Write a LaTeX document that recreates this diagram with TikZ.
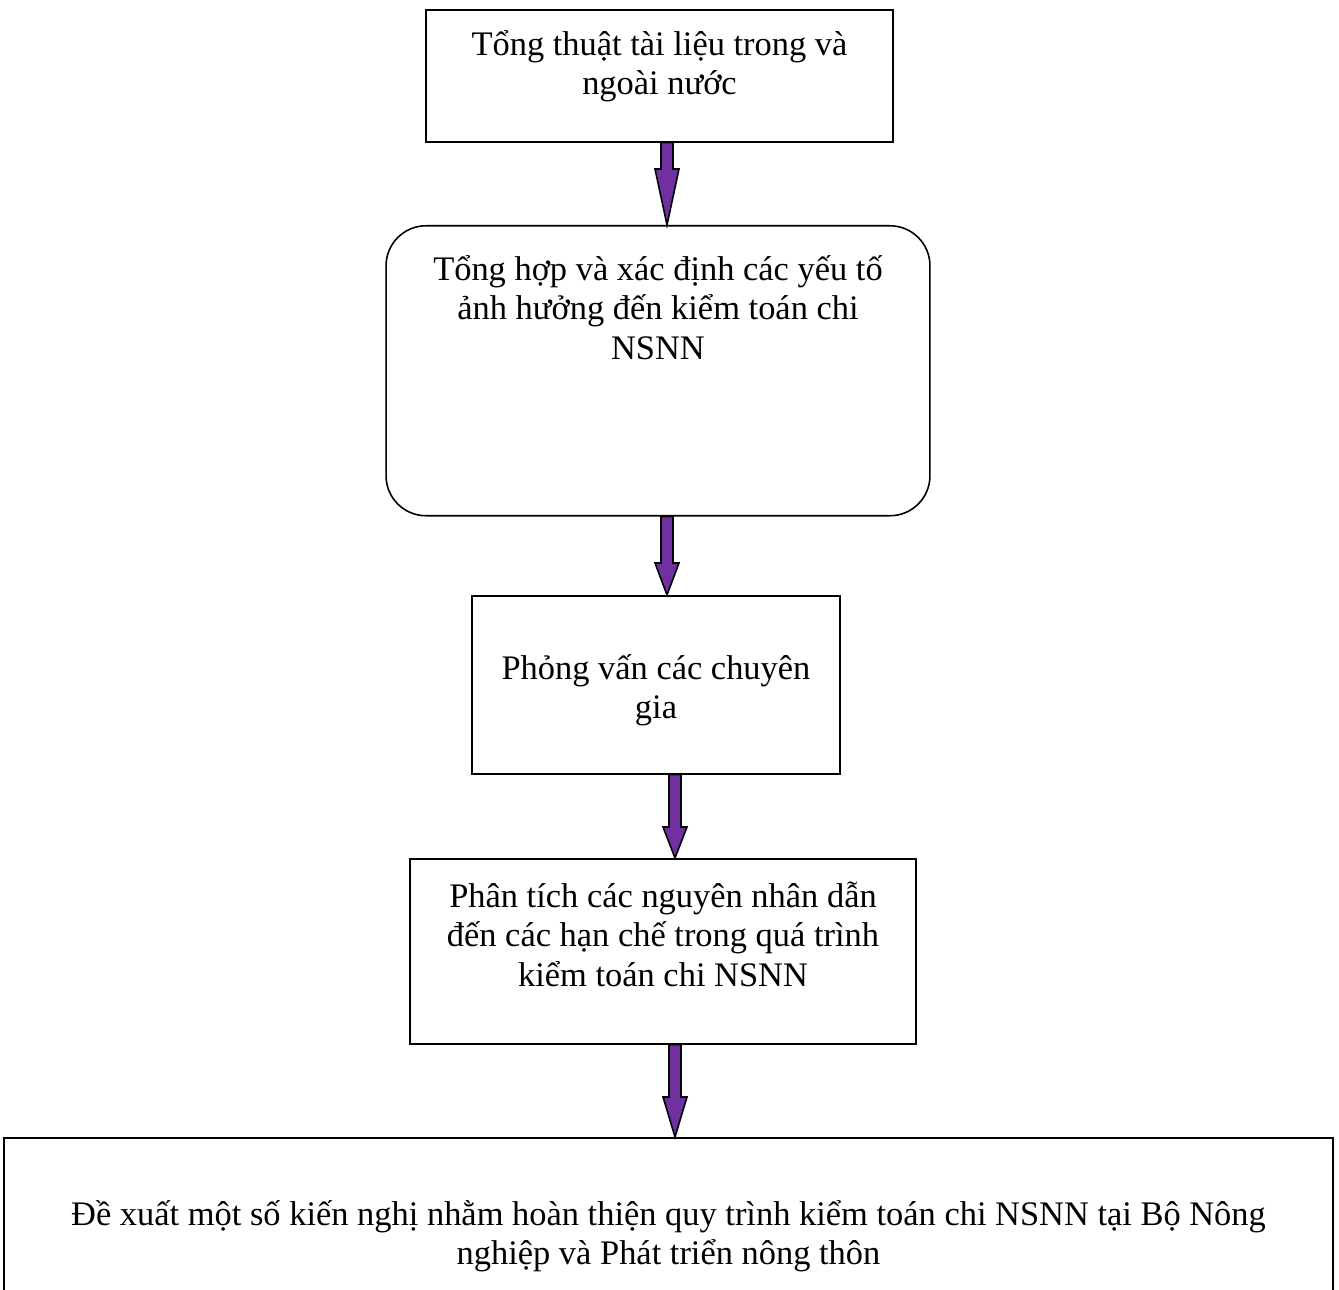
\documentclass[tikz,border=0pt]{standalone}
\usepackage{fontspec}
\setmainfont{Liberation Serif}
\usepackage{tikz}
\usetikzlibrary{calc}

\definecolor{stepviolet}{RGB}{112,48,160}

% text set at the top of a box: width, height, first baseline, lines
\newcommand{\steptext}[4]{\parbox[c][#2][t]{#1}{\centering\rule{0pt}{#3}#4}}

% block arrow from one box down to the next: column, from, to, head length
\newcommand{\fatarrow}[4]{%
    \draw[purplearrow] ($ (#1 |- #2.south)+(-6,0) $) -- ($ (#1 |- #2.south)+(6,0) $)
        -- ($ (#1 |- #3.north)+(6,-#4) $) -- ($ (#1 |- #3.north)+(12,-#4) $)
        -- (#1 |- #3.north) -- ($ (#1 |- #3.north)+(-12,-#4) $)
        -- ($ (#1 |- #3.north)+(-6,-#4) $) -- cycle;}

\tikzset{
    stepbox/.style={draw, line width=0.9pt, inner sep=0pt, anchor=north,
        font=\fontsize{19.6}{22.3}\selectfont},
    roundbox/.style={stepbox, rounded corners=0.8cm},
    purplearrow/.style={draw, fill=stepviolet, line width=0.9pt, line join=miter}
}

\begin{document}
\begin{tikzpicture}[x=0.02cm,y=-0.02cm]
    \clip (0,0) rectangle (1339,1290);

    \node[stepbox] (review) at (659.5,9)
        {\steptext{9.34cm}{2.64cm}{0.92cm}{Tổng thuật tài liệu trong và\\ngoài nước}};
    \node[roundbox] (factors) at (658,225)
        {\steptext{10.88cm}{5.8cm}{1.1cm}{Tổng hợp và xác định các yếu tố\\ảnh hưởng đến kiểm toán chi\\NSNN}};
    \node[stepbox] (interview) at (656,595)
        {\steptext{7.36cm}{3.56cm}{1.68cm}{Phỏng vấn các chuyên\\gia}};
    \node[stepbox] (causes) at (663,858)
        {\steptext{10.12cm}{3.7cm}{0.98cm}{Phân tích các nguyên nhân dẫn\\đến các hạn chế trong quá trình\\kiểm toán chi NSNN}};
    \node[stepbox] (proposal) at (668.5,1137)
        {\steptext{26.58cm}{6cm}{1.76cm}{Đề xuất một số kiến nghị nhằm hoàn thiện quy trình kiểm toán chi NSNN tại Bộ Nông\\nghiệp và Phát triển nông thôn}};

    % arrow columns
    \coordinate (colA) at (667,0);
    \coordinate (colB) at (675,0);

    \fatarrow{colA}{review}{factors}{56}
    \fatarrow{colA}{factors}{interview}{32}
    \fatarrow{colB}{interview}{causes}{31}
    \fatarrow{colB}{causes}{proposal}{40}
\end{tikzpicture}
\end{document}
